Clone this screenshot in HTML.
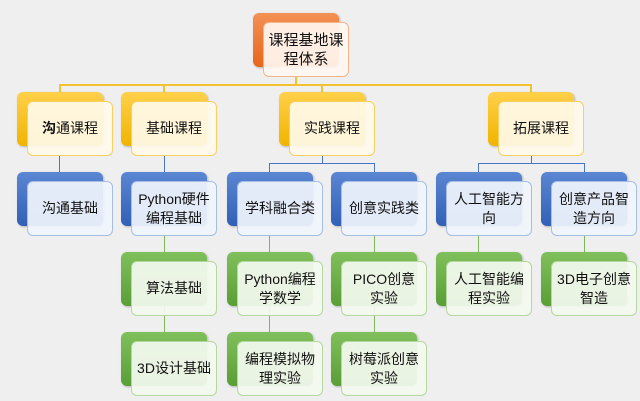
<!DOCTYPE html>
<html><head><meta charset="utf-8"><style>
body{margin:0;width:640px;height:401px;background:#efefef;position:relative;overflow:hidden;font-family:"Liberation Sans","Noto Sans CJK SC",sans-serif;}
.b{position:absolute;width:86px;height:54px;border-radius:6px;box-shadow:1px 1px 2px rgba(0,0,0,.25);}
.w{position:absolute;width:84px;height:53px;border-radius:6px;background:rgba(255,255,255,.88);display:flex;align-items:center;justify-content:center;text-align:center;font-size:14px;line-height:19px;color:#111;}
.o{background:linear-gradient(#f39155,#e8661c);} .wo{border:1px solid #f4b48c;background:rgba(255,246,240,.93)}
.y{background:linear-gradient(#ffd04a,#f0b400);} .wy{border:1px solid #f7d060;background:rgba(255,250,234,.92)}
.bl{background:linear-gradient(#5b86d2,#3160b6);} .wb{border:1px solid #a6bde6;background:rgba(240,244,252,.93)}
.g{background:linear-gradient(#80c05c,#5a9e36);} .wg{border:1px solid #b4d8a0;background:rgba(244,250,240,.93)}
.l{position:absolute;}
</style></head><body>
<!-- connectors -->
<div class="l" style="left:59px;top:84px;width:472px;height:2px;background:#f2c230"></div>
<div class="l" style="left:295px;top:76px;width:2px;height:9px;background:#f2c230"></div>
<div class="l" style="left:59px;top:84px;width:2px;height:10px;background:#f2c230"></div>
<div class="l" style="left:163px;top:84px;width:2px;height:10px;background:#f2c230"></div>
<div class="l" style="left:321px;top:84px;width:2px;height:10px;background:#f2c230"></div>
<div class="l" style="left:530px;top:84px;width:2px;height:10px;background:#f2c230"></div>
<div class="l" style="left:59px;top:155px;width:1px;height:18px;background:#4a76c4"></div>
<div class="l" style="left:164px;top:155px;width:1px;height:18px;background:#4a76c4"></div>
<div class="l" style="left:269px;top:163px;width:105px;height:1px;background:#4a76c4"></div>
<div class="l" style="left:322px;top:155px;width:1px;height:8px;background:#4a76c4"></div>
<div class="l" style="left:269px;top:163px;width:1px;height:10px;background:#4a76c4"></div>
<div class="l" style="left:374px;top:163px;width:1px;height:10px;background:#4a76c4"></div>
<div class="l" style="left:478px;top:163px;width:106px;height:1px;background:#4a76c4"></div>
<div class="l" style="left:531px;top:155px;width:1px;height:8px;background:#4a76c4"></div>
<div class="l" style="left:478px;top:163px;width:1px;height:10px;background:#4a76c4"></div>
<div class="l" style="left:584px;top:163px;width:1px;height:10px;background:#4a76c4"></div>
<div class="l" style="left:164px;top:235px;width:1px;height:100px;background:#7cb85a"></div>
<div class="l" style="left:269px;top:235px;width:1px;height:100px;background:#7cb85a"></div>
<div class="l" style="left:374px;top:235px;width:1px;height:100px;background:#7cb85a"></div>
<div class="l" style="left:478px;top:235px;width:1px;height:20px;background:#7cb85a"></div>
<div class="l" style="left:584px;top:235px;width:1px;height:20px;background:#7cb85a"></div>

<div class="b o" style="left:253px;top:13px"></div><div class="w wo" style="left:263px;top:22px;font-size:15px">课程基地课<br>程体系</div>

<div class="b y" style="left:17px;top:92px"></div><div class="w wy" style="left:27px;top:101px"><span><b>沟</b>通课程</span></div>
<div class="b y" style="left:121px;top:92px"></div><div class="w wy" style="left:131px;top:101px">基础课程</div>
<div class="b y" style="left:279px;top:92px"></div><div class="w wy" style="left:289px;top:101px">实践课程</div>
<div class="b y" style="left:488px;top:92px"></div><div class="w wy" style="left:498px;top:101px">拓展课程</div>

<div class="b bl" style="left:17px;top:172px"></div><div class="w wb" style="left:27px;top:181px">沟通基础</div>
<div class="b bl" style="left:121px;top:172px"></div><div class="w wb" style="left:131px;top:181px">Python硬件<br>编程基础</div>
<div class="b bl" style="left:227px;top:172px"></div><div class="w wb" style="left:237px;top:181px">学科融合类</div>
<div class="b bl" style="left:331px;top:172px"></div><div class="w wb" style="left:341px;top:181px">创意实践类</div>
<div class="b bl" style="left:436px;top:172px"></div><div class="w wb" style="left:446px;top:181px">人工智能方<br>向</div>
<div class="b bl" style="left:541px;top:172px"></div><div class="w wb" style="left:551px;top:181px">创意产品智<br>造方向</div>

<div class="b g" style="left:121px;top:252px"></div><div class="w wg" style="left:131px;top:261px">算法基础</div>
<div class="b g" style="left:227px;top:252px"></div><div class="w wg" style="left:237px;top:261px">Python编程<br>学数学</div>
<div class="b g" style="left:331px;top:252px"></div><div class="w wg" style="left:341px;top:261px">PICO创意<br>实验</div>
<div class="b g" style="left:436px;top:252px"></div><div class="w wg" style="left:446px;top:261px">人工智能编<br>程实验</div>
<div class="b g" style="left:541px;top:252px"></div><div class="w wg" style="left:551px;top:261px">3D电子创意<br>智造</div>

<div class="b g" style="left:121px;top:332px"></div><div class="w wg" style="left:131px;top:341px">3D设计基础</div>
<div class="b g" style="left:227px;top:332px"></div><div class="w wg" style="left:237px;top:341px">编程模拟物<br>理实验</div>
<div class="b g" style="left:331px;top:332px"></div><div class="w wg" style="left:341px;top:341px">树莓派创意<br>实验</div>
</body></html>
